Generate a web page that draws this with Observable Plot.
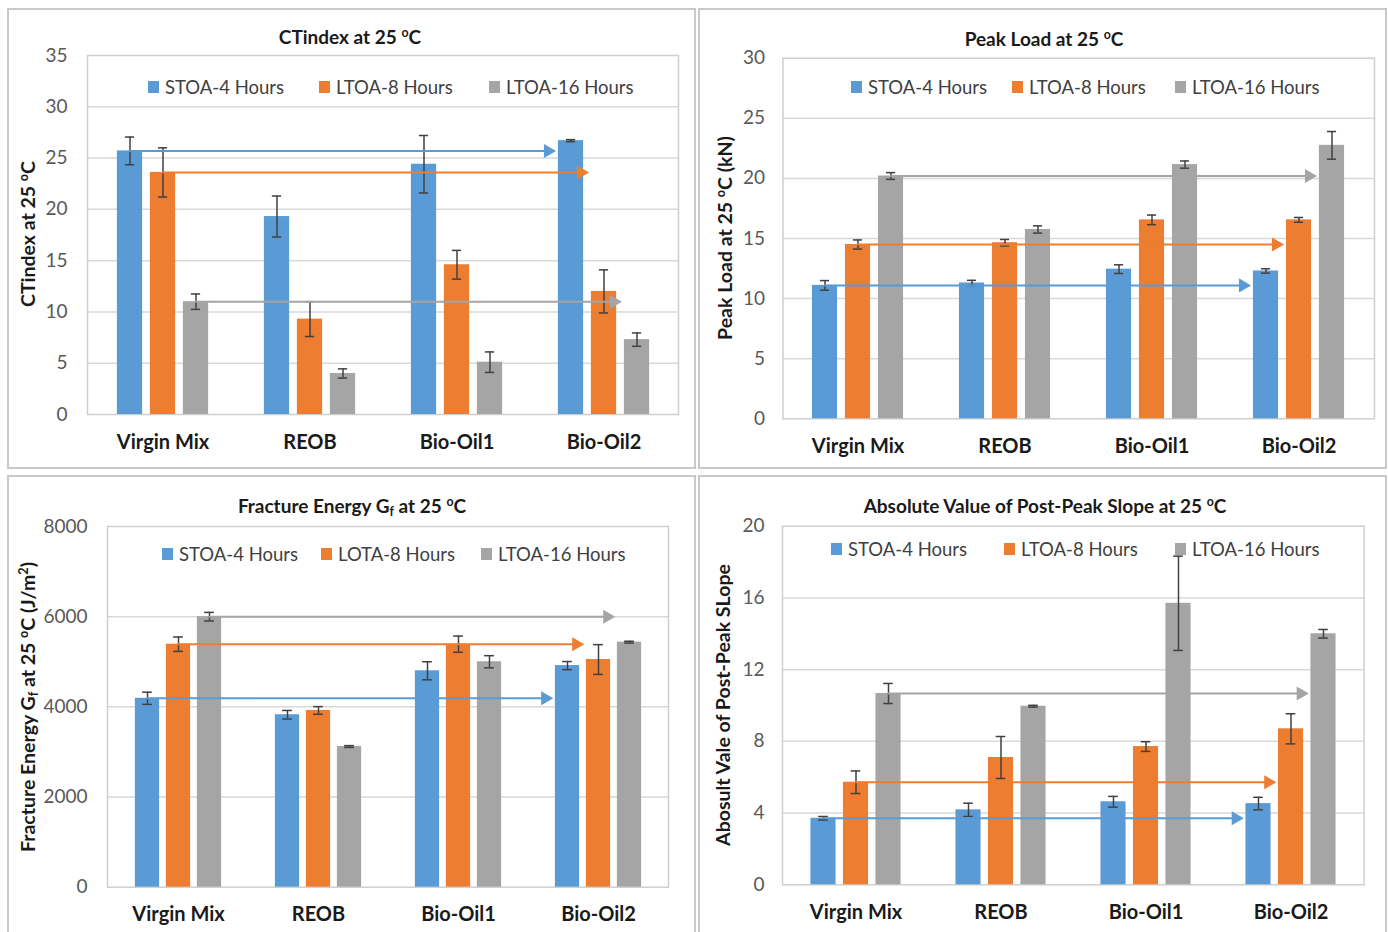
<!DOCTYPE html>
<html>
<head>
<meta charset="utf-8">
<script src="https://cdn.jsdelivr.net/npm/d3@7"></script>
<script src="https://cdn.jsdelivr.net/npm/@observablehq/plot@0.6"></script>
<style>
  html, body { margin: 0; padding: 0; background: #fff; }
  body { width: 1388px; height: 932px; overflow: hidden; font-family: Lato, "Open Sans", sans-serif; }
  #root { position: relative; width: 1388px; height: 932px; overflow: hidden; }
  .panel { position: absolute; border: 2px solid #c9c9c9; box-sizing: border-box; background: #fff; }
  .svgbox { position: absolute; }
  .title { position: absolute; transform: translate(-50%, -50%); white-space: nowrap; font-weight: bold; font-size: 19px; color: #1a1a1a; }
  .ylab { position: absolute; transform: translate(-50%, -50%) rotate(-90deg); white-space: nowrap; font-weight: bold; font-size: 19.5px; color: #1a1a1a; }
  .leg { position: absolute; transform: translateY(-50%); white-space: nowrap; font-size: 18.5px; color: #404040; line-height: 1; }
  .sw { position: absolute; width: 11px; height: 12px; transform: translateY(-50%); }
  sup { font-size: 0.65em; vertical-align: 0.55em; line-height: 0; }
  sub { font-size: 0.65em; vertical-align: -0.3em; line-height: 0; }
</style>
</head>
<body>
<div id="root"></div>
<script>
// ---------- data ----------
const categories = ["Virgin Mix", "REOB", "Bio-Oil1", "Bio-Oil2"];
const seriesNames = ["STOA-4 Hours", "LTOA-8 Hours", "LTOA-16 Hours"];
const seriesNamesGf = ["STOA-4 Hours", "LOTA-8 Hours", "LTOA-16 Hours"];

// CTindex at 25 oC
const ctStoa4 = [25.7, 19.3, 24.4, 26.7];
const ctLtoa8 = [23.6, 9.3, 14.6, 12.0];
const ctLtoa16 = [11.0, 4.0, 5.1, 7.3];
const ctStoa4Err = [1.35, 2.0, 2.8, 0.1];
const ctLtoa8Err = [2.4, 1.7, 1.4, 2.1];
const ctLtoa16Err = [0.75, 0.45, 1.0, 0.65];
const ctTicks = [0, 5, 10, 15, 20, 25, 30, 35];

// Peak load at 25 oC (kN)
const plStoa4 = [11.1, 11.3, 12.45, 12.3];
const plLtoa8 = [14.5, 14.65, 16.55, 16.55];
const plLtoa16 = [20.2, 15.75, 21.15, 22.75];
const plStoa4Err = [0.4, 0.22, 0.36, 0.18];
const plLtoa8Err = [0.38, 0.27, 0.4, 0.2];
const plLtoa16Err = [0.28, 0.3, 0.3, 1.15];
const plTicks = [0, 5, 10, 15, 20, 25, 30];

// Fracture energy Gf at 25 oC (J/m2)
const gfStoa4 = [4190, 3825, 4800, 4915];
const gfLtoa8 = [5390, 3920, 5390, 5050];
const gfLtoa16 = [6000, 3120, 5000, 5435];
const gfStoa4Err = [135, 95, 200, 90];
const gfLtoa8Err = [160, 85, 180, 330];
const gfLtoa16Err = [95, 20, 135, 20];
const gfTicks = [0, 2000, 4000, 6000, 8000];

// Absolute value of post-peak slope at 25 oC
const ppStoa4 = [3.71, 4.18, 4.63, 4.53];
const ppLtoa8 = [5.72, 7.1, 7.71, 8.7];
const ppLtoa16 = [10.67, 9.96, 15.7, 14.0];
const ppStoa4Err = [0.1, 0.37, 0.3, 0.35];
const ppLtoa8Err = [0.63, 1.17, 0.27, 0.84];
const ppLtoa16Err = [0.56, 0.05, 2.63, 0.24];
const ppTicks = [0, 4, 8, 12, 16, 20];

// ---------- styles ----------
const colors = ["#5B9BD5", "#ED7D31", "#A5A5A5"];
const errColor = "#404040";

const panels = [
  {
    border: {left: 7, top: 8, w: 689, h: 461},
    svg: {left: 8, top: 9, w: 686, h: 458},
    frame: {l: 87, t: 55, r: 678, b: 414},
    values: [ctStoa4, ctLtoa8, ctLtoa16], errors: [ctStoa4Err, ctLtoa8Err, ctLtoa16Err],
    ticks: ctTicks, names: seriesNames,
    barW: 26, step: 33, yPad: 20, xPad: 20,
    title: "CTindex at 25 <sup>o</sup>C", titlePos: [350, 36],
    ylab: "CTindex at 25 <sup>o</sup>C", ylabPos: [27, 234],
    legendY: 87, legendX: [148, 319, 489]
  },
  {
    border: {left: 698, top: 8, w: 689, h: 461},
    svg: {left: 700, top: 9, w: 684, h: 458},
    frame: {l: 782.5, t: 57.7, r: 1374, b: 418.3},
    values: [plStoa4, plLtoa8, plLtoa16], errors: [plStoa4Err, plLtoa8Err, plLtoa16Err],
    ticks: plTicks, names: seriesNames,
    barW: 26, step: 33, yPad: 18, xPad: 20,
    title: "Peak Load at 25 <sup>o</sup>C", titlePos: [1044, 38],
    ylab: "Peak Load at 25 <sup>o</sup>C (kN)", ylabPos: [724, 238],
    legendY: 87, legendX: [851, 1012, 1175]
  },
  {
    border: {left: 7, top: 475, w: 689, h: 470},
    svg: {left: 8, top: 476, w: 686, h: 456},
    frame: {l: 107, t: 526, r: 668, b: 886.7},
    values: [gfStoa4, gfLtoa8, gfLtoa16], errors: [gfStoa4Err, gfLtoa8Err, gfLtoa16Err],
    ticks: gfTicks, names: seriesNamesGf,
    barW: 24.5, step: 31, yPad: 20, xPad: 20,
    title: "Fracture Energy G<sub>f</sub> at 25 <sup>o</sup>C", titlePos: [352, 505],
    ylab: "Fracture Energy G<sub>f</sub> at 25 <sup>o</sup>C (J/m<sup>2</sup>)", ylabPos: [27, 707],
    legendY: 554, legendX: [162, 321, 481]
  },
  {
    border: {left: 698, top: 475, w: 689, h: 470},
    svg: {left: 700, top: 476, w: 684, h: 456},
    frame: {l: 782, t: 525.7, r: 1363.6, b: 884.3},
    values: [ppStoa4, ppLtoa8, ppLtoa16], errors: [ppStoa4Err, ppLtoa8Err, ppLtoa16Err],
    ticks: ppTicks, names: seriesNames,
    barW: 25.5, step: 32.5, yPad: 18, xPad: 20,
    title: "Absolute Value of Post-Peak Slope at 25 <sup>o</sup>C", titlePos: [1045, 505],
    ylab: "Abosult Vale of Post-Peak SLope", ylabPos: [722, 705],
    legendY: 549, legendX: [831, 1004, 1175]
  }
];

const root = document.getElementById("root");

function el(tag, cls, css, html) {
  const e = document.createElement(tag);
  if (cls) e.className = cls;
  Object.assign(e.style, css || {});
  if (html != null) e.innerHTML = html;
  root.appendChild(e);
  return e;
}

for (const p of panels) {
  el("div", "panel", {left: p.border.left + "px", top: p.border.top + "px", width: p.border.w + "px", height: p.border.h + "px"});
}

for (const p of panels) {
  const {left, top, w, h} = p.svg;
  const {l, t, r, b} = p.frame;
  const ml = l - left, mr = left + w - r, mt = t - top, mb = top + h - b;
  const yMax = p.ticks[p.ticks.length - 1];
  const band = (r - l) / categories.length;
  const inset = (band - p.barW) / 2;
  const rows = (s) => categories.map((c, i) => ({cat: c, v: p.values[s][i], e: p.errors[s][i]}));

  const marks = [
    Plot.ruleY(p.ticks.filter(v => v > 0 && v < yMax), {stroke: "#d9d9d9", strokeWidth: 1.5}),
    Plot.frame({stroke: "#cfcfcf", strokeWidth: 1.5}),
    Plot.axisY(p.ticks, {tickSize: 0, tickPadding: p.yPad, fontSize: 19, color: "#595959", label: null, tickFormat: d => String(d)}),
    Plot.axisX({tickSize: 0, tickPadding: p.xPad, fontSize: 20, fontWeight: "bold", color: "#1a1a1a", label: null})
  ];
  for (let s = 0; s < 3; s++) {
    const dx = (s - 1) * p.step;
    marks.push(Plot.barY(rows(s), {x: "cat", y: "v", fill: colors[s], insetLeft: inset, insetRight: inset, dx}));
  }
  for (let s = 0; s < 3; s++) {
    const dx = (s - 1) * p.step;
    const d = rows(s);
    marks.push(Plot.ruleX(d, {x: "cat", y1: q => q.v - q.e, y2: q => q.v + q.e, dx, stroke: errColor, strokeWidth: 1.5}));
    marks.push(Plot.tickY(d, {x: "cat", y: q => q.v + q.e, dx, insetLeft: band / 2 - 5, insetRight: band / 2 - 5, stroke: errColor, strokeWidth: 1.5}));
    marks.push(Plot.tickY(d, {x: "cat", y: q => q.v - q.e, dx, insetLeft: band / 2 - 5, insetRight: band / 2 - 5, stroke: errColor, strokeWidth: 1.5}));
  }
  for (let s = 0; s < 3; s++) {
    const dx = (s - 1) * p.step;
    const a = [{from: categories[0], to: categories[categories.length - 1], y: p.values[s][0]}];
    const headBack = p.barW / 2 + 2 + 8;
    marks.push(Plot.arrow(a, {x1: "from", x2: "to", y1: "y", y2: "y", dx, stroke: colors[s], strokeWidth: 2, headLength: 0, insetEnd: headBack}));
    marks.push(Plot.dot(a, {x: "to", y: "y", dx: dx - headBack, symbol: "triangle", rotate: 90, r: 5.2, fill: colors[s], stroke: "none"}));
  }

  const chart = Plot.plot({
    width: w, height: h,
    marginLeft: ml, marginRight: mr, marginTop: mt, marginBottom: mb,
    style: {fontFamily: "Lato, 'Open Sans', sans-serif", background: "transparent", overflow: "visible"},
    x: {type: "band", domain: categories, padding: 0, label: null},
    y: {domain: [0, yMax], label: null},
    marks
  });
  const box = el("div", "svgbox", {left: left + "px", top: top + "px", width: w + "px", height: h + "px"});
  box.appendChild(chart);

  el("div", "title", {left: p.titlePos[0] + "px", top: p.titlePos[1] + "px"}, p.title);
  el("div", "ylab", {left: p.ylabPos[0] + "px", top: p.ylabPos[1] + "px"}, p.ylab);
  p.names.forEach((n, s) => {
    el("div", "sw", {left: p.legendX[s] + "px", top: p.legendY + "px", background: colors[s]});
    el("div", "leg", {left: (p.legendX[s] + 17) + "px", top: p.legendY + "px"}, n);
  });
}
</script>
</body>
</html>
